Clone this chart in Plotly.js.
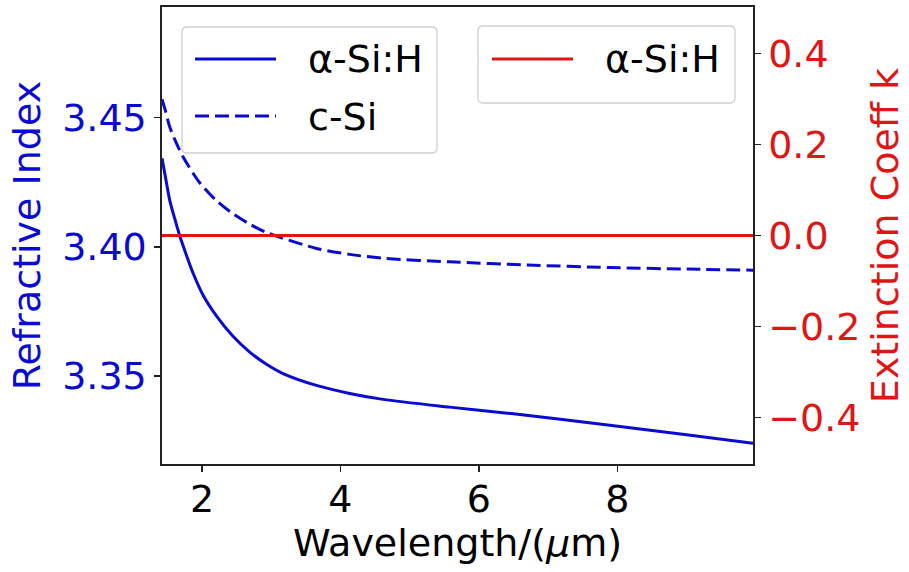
<!DOCTYPE html>
<html>
<head>
<meta charset="utf-8">
<script src="https://cdn.plot.ly/plotly-3.0.1.min.js"></script>
<style>html,body{margin:0;padding:0;background:#fff;}#chart{width:909px;height:572px;}</style>
</head>
<body>
<div id="chart"></div>
<script>
// ---- data ----
const wlASi = [1.422, 1.475, 1.533, 1.605, 1.678, 1.775, 1.870, 2.014, 2.208, 2.448, 2.689, 2.931, 3.171, 3.653, 4.134, 4.616, 5.579, 6.5, 7.89, 9.0, 9.96];
const nASi  = [3.4343, 3.4265, 3.4181, 3.4110, 3.4043, 3.3968, 3.3899, 3.3814, 3.3733, 3.3654, 3.3593, 3.3546, 3.3510, 3.3464, 3.3433, 3.3410, 3.3380, 3.3354, 3.3310, 3.3273, 3.3240];
const wlCSi = [1.422, 1.475, 1.533, 1.630, 1.725, 1.967, 2.208, 2.448, 2.689, 2.931, 3.653, 4.134, 4.616, 5.579, 6.7, 7.89, 9.0, 9.96];
const nCSi  = [3.4571, 3.4523, 3.4465, 3.4401, 3.4349, 3.4248, 3.4179, 3.4128, 3.4088, 3.4056, 3.3994, 3.3971, 3.3956, 3.3942, 3.3930, 3.3920, 3.3914, 3.3910];
const wlK   = [1.422, 9.96];
const kASi  = [0, 0];
const seriesNames = ['α-Si:H', 'c-Si', 'α-Si:H'];
const leftTicks = [3.35, 3.40, 3.45];
const rightTicks = [-0.4, -0.2, 0.0, 0.2, 0.4];
const xTicks = [2, 4, 6, 8];

// ---- styling ----
const BLUE = '#0a0ad2';
const RED = '#e01515';
const FONT = 'DejaVu Sans, Verdana, sans-serif';
const FS = 38;

// plot-area pixel geometry
const L = 162, R = 753, T = 7, B = 464;
const PW = R - L, PH = B - T;
const px = v => (v - L) / PW;
const py = v => (B - v) / PH;

function rrect(x0, y0, x1, y1, r) {
  const p = (x, y) => px(x) + ',' + py(y);
  return 'M' + p(x0 + r, y0) + ' L' + p(x1 - r, y0) + ' Q' + p(x1, y0) + ' ' + p(x1, y0 + r) +
         ' L' + p(x1, y1 - r) + ' Q' + p(x1, y1) + ' ' + p(x1 - r, y1) +
         ' L' + p(x0 + r, y1) + ' Q' + p(x0, y1) + ' ' + p(x0, y1 - r) +
         ' L' + p(x0, y0 + r) + ' Q' + p(x0, y0) + ' ' + p(x0 + r, y0) + ' Z';
}

const traces = [
  {x: wlASi, y: nASi, name: seriesNames[0], type: 'scatter', mode: 'lines',
   line: {color: BLUE, width: 3, shape: 'spline', smoothing: 0.8}, showlegend: false},
  {x: wlCSi, y: nCSi, name: seriesNames[1], type: 'scatter', mode: 'lines',
   line: {color: BLUE, width: 3, dash: '14px,6px', shape: 'spline', smoothing: 0.8}, showlegend: false},
  {x: wlK, y: kASi, name: seriesNames[2], type: 'scatter', mode: 'lines', yaxis: 'y2',
   line: {color: RED, width: 3}, showlegend: false}
];

const shapes = [
  {type: 'path', xref: 'paper', yref: 'paper', layer: 'above', path: rrect(182, 27, 437, 153, 5),
   fillcolor: 'rgba(255,255,255,0.85)', line: {color: '#d0d0d0', width: 1.3}},
  {type: 'line', xref: 'paper', yref: 'paper', layer: 'above', x0: px(195), x1: px(276), y0: py(59), y1: py(59),
   line: {color: BLUE, width: 3}},
  {type: 'line', xref: 'paper', yref: 'paper', layer: 'above', x0: px(195), x1: px(276), y0: py(116), y1: py(116),
   line: {color: BLUE, width: 3, dash: '14px,6px'}},
  {type: 'path', xref: 'paper', yref: 'paper', layer: 'above', path: rrect(478, 26, 735, 103, 5),
   fillcolor: 'rgba(255,255,255,0.85)', line: {color: '#d0d0d0', width: 1.3}},
  {type: 'line', xref: 'paper', yref: 'paper', layer: 'above', x0: px(492), x1: px(573), y0: py(59), y1: py(59),
   line: {color: RED, width: 3}}
];

const annotations = [
  {xref: 'paper', yref: 'paper', x: px(306), y: py(59), xanchor: 'left', yanchor: 'middle', showarrow: false,
   text: seriesNames[0], font: {family: FONT, size: FS, color: '#000'}},
  {xref: 'paper', yref: 'paper', x: px(306), y: py(117), xanchor: 'left', yanchor: 'middle', showarrow: false,
   text: seriesNames[1], font: {family: FONT, size: FS, color: '#000'}},
  {xref: 'paper', yref: 'paper', x: px(603), y: py(59), xanchor: 'left', yanchor: 'middle', showarrow: false,
   text: seriesNames[2], font: {family: FONT, size: FS, color: '#000'}}
];

const layout = {
  width: 909, height: 572,
  margin: {l: L, r: 909 - R, t: T, b: 572 - B, pad: 0},
  paper_bgcolor: '#fff', plot_bgcolor: '#fff',
  font: {family: FONT, size: FS, color: '#000'},
  showlegend: false,
  xaxis: {
    range: [1.422, 9.96], tickvals: xTicks, ticktext: xTicks.map(String),
    showgrid: false, zeroline: false, showline: true, mirror: true,
    linecolor: '#222', linewidth: 1.6, ticks: 'outside', ticklen: 6, tickwidth: 1.4, tickcolor: '#222',
    tickfont: {family: FONT, size: FS, color: '#000'}, ticklabelstandoff: -5,
    title: {text: 'Wavelength/(<i>μ</i>m)', font: {family: FONT, size: FS, color: '#000'}, standoff: 4},
    automargin: false
  },
  yaxis: {
    range: [3.316, 3.4928], tickvals: leftTicks, ticktext: leftTicks.map(v => v.toFixed(2)),
    showgrid: false, zeroline: false, showline: true, mirror: true,
    linecolor: '#222', linewidth: 1.6, ticks: 'outside', ticklen: 6, tickwidth: 1.4, tickcolor: '#222',
    tickfont: {family: FONT, size: FS, color: BLUE},
    title: {text: 'Refractive Index', font: {family: FONT, size: FS, color: BLUE}, standoff: 10},
    automargin: false
  },
  yaxis2: {
    overlaying: 'y', side: 'right',
    range: [-0.502, 0.502], tickvals: rightTicks,
    ticktext: rightTicks.map(v => (v < 0 ? '\u2212' : '') + Math.abs(v).toFixed(1)),
    showgrid: false, zeroline: false, showline: true,
    linecolor: '#222', linewidth: 1.6, ticks: 'outside', ticklen: 6, tickwidth: 1.4, tickcolor: '#222',
    tickfont: {family: FONT, size: FS, color: RED},
    title: {text: 'Extinction Coeff k', font: {family: FONT, size: FS, color: RED}, standoff: 12},
    automargin: false
  },
  shapes: shapes,
  annotations: annotations
};

Plotly.newPlot('chart', traces, layout, {displayModeBar: false, staticPlot: true});
</script>
</body>
</html>
